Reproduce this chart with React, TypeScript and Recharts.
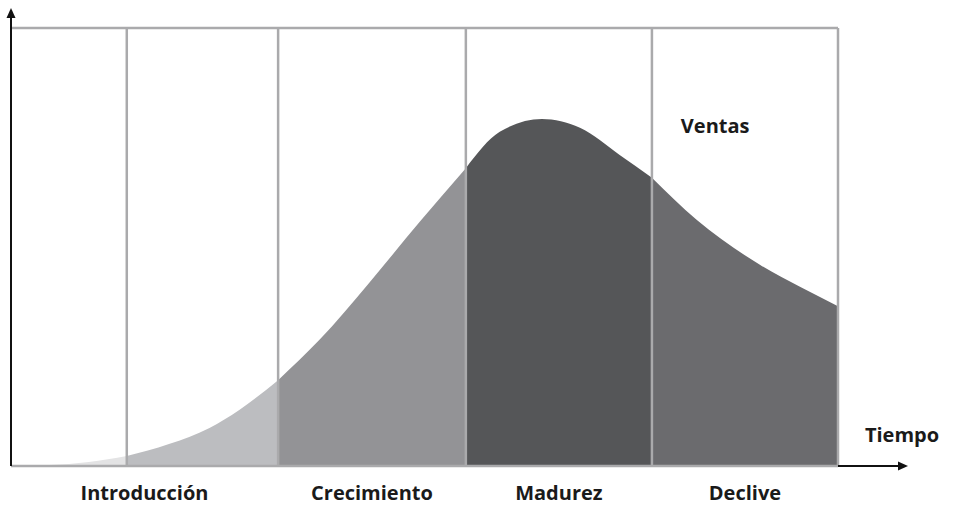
import React from 'react';
import { AreaChart, Area, XAxis, YAxis, ReferenceLine, ReferenceDot } from 'recharts';

// tiempo en % del ciclo, ventas en % del eje
const tiempo = [0, 4.6, 9.4, 14, 19.1, 24, 27.6, 32.3, 37.3, 43.3, 49.4, 55, 59.1, 64.2, 68.8, 73.6, 77.5, 82.9, 90.6, 95.4, 100];
const ventas = [0, 0.2, 0.9, 2.3, 5.0, 8.7, 12.8, 19.6, 28.8, 41.8, 55.7, 68.0, 76.3, 79.2, 77.2, 71.0, 65.8, 56.2, 45.9, 40.9, 36.5];
const limites = [0, 14, 32.3, 55, 77.5, 100];
const colores = ['#e3e3e4', '#bcbdc0', '#939396', '#555658', '#6b6b6e'];
const etapas = ['Introducción', 'Crecimiento', 'Madurez', 'Declive'];
const etapaLimites = [0, 32.3, 55, 77.5, 100];

const FONT = '"Open Sans", "Noto Sans", sans-serif';
const GRIS = '#aaaaac';

const data = tiempo.map((t, i) => {
  const row: any = { t };
  colores.forEach((_, k) => {
    row['s' + k] = t >= limites[k] && t <= limites[k + 1] ? ventas[i] : null;
  });
  return row;
});

const ticks = etapas.map((_, i) => (etapaLimites[i] + etapaLimites[i + 1]) / 2);

function EtapaTick({ x, y, payload }: any) {
  const idx = ticks.indexOf(payload.value);
  return (
    <text x={x} y={y + 21} textAnchor="middle" dominantBaseline="middle"
      fontFamily={FONT} fontWeight={700} fontSize={20} fill="#1a1a1a">
      {etapas[idx]}
    </text>
  );
}

function FlechaY({ viewBox }: any) {
  const { x, y } = viewBox;
  return (
    <g>
      <line x1={x} y1={y} x2={x} y2={y - 12} stroke="#111" strokeWidth={2} />
      <path d={`M${x - 4.5},${y - 10} L${x},${y - 20} L${x + 4.5},${y - 10} Z`} fill="#111" />
    </g>
  );
}

function FlechaX({ viewBox }: any) {
  const { x, y, width } = viewBox;
  const x0 = x + width;
  return (
    <g>
      <line x1={x0} y1={y} x2={x0 + 62} y2={y} stroke="#111" strokeWidth={2} />
      <path d={`M${x0 + 60},${y - 4.5} L${x0 + 70},${y} L${x0 + 60},${y + 4.5} Z`} fill="#111" />
      <text x={x0 + 64} y={y - 29} textAnchor="middle" dominantBaseline="middle"
        fontFamily={FONT} fontWeight={700} fontSize={20} fill="#1a1a1a">
        Tiempo
      </text>
    </g>
  );
}

function VentasLabel({ viewBox }: any) {
  return (
    <text x={viewBox.x} y={viewBox.y} dominantBaseline="middle"
      fontFamily={FONT} fontWeight={700} fontSize={20} fill="#1a1a1a">
      Ventas
    </text>
  );
}

export default function App() {
  return (
    <div style={{ position: 'absolute', left: 0, top: 0, background: '#fff' }}>
      <AreaChart width={953} height={507} data={data}
        margin={{ top: 28, right: 115, left: 11, bottom: 0 }}>
        <XAxis dataKey="t" type="number" domain={[0, 100]} ticks={ticks}
          axisLine={false} tickLine={false} height={41} tick={<EtapaTick />} interval={0} />
        <YAxis type="number" domain={[0, 100]} hide />
        {colores.map((c, k) => (
          <Area key={k} type="monotone" dataKey={'s' + k} stroke="none" fill={c}
            fillOpacity={1} isAnimationActive={false} dot={false} activeDot={false} />
        ))}
        {limites.slice(1).map(l => (
          <ReferenceLine key={l} x={l} stroke={GRIS} strokeWidth={2.5} />
        ))}
        <ReferenceLine y={100} stroke={GRIS} strokeWidth={2.5} />
        <ReferenceLine y={0} stroke={GRIS} strokeWidth={2.5} label={<FlechaX />} />
        <ReferenceLine x={0} stroke="#111" strokeWidth={2} label={<FlechaY />} />
        <ReferenceDot x={81} y={77.2} r={0} fill="none" stroke="none" label={<VentasLabel />} />
      </AreaChart>
    </div>
  );
}
